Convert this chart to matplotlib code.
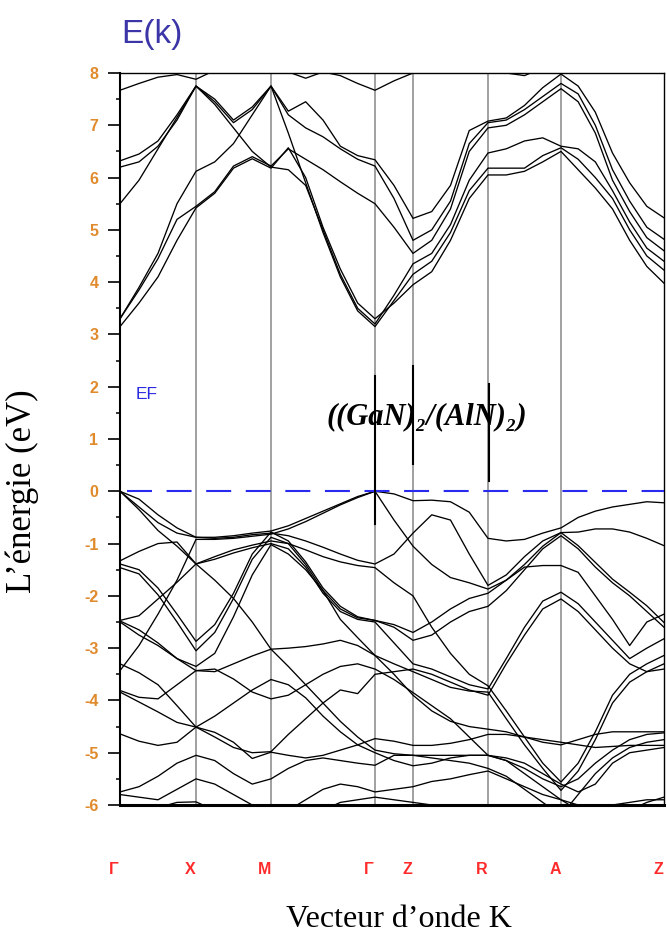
import numpy as np
import matplotlib
matplotlib.use('Agg')
import matplotlib.pyplot as plt
import matplotlib.transforms as mtransforms

plt.rcParams['axes.unicode_minus'] = False

# High symmetry points along the path
k_labels = ['Γ', 'X', 'M', 'Γ', 'Z', 'R', 'A', 'Z']
k_nodes = [0.0, 0.76, 1.51, 2.55, 2.93, 3.68, 4.41, 5.44]
seg_div = [4, 4, 6, 2, 4, 4, 6]

# Conduction bands (eV), read at the sample points of the path
cb1 = [3.15, 3.6, 4.1, 4.8, 5.42, 5.7, 6.18, 6.36, 6.18, 6.57, 6.0, 5.05, 4.25, 3.6, 3.3,
       3.6, 3.95, 4.2, 4.8, 5.6, 6.05, 6.05, 6.12, 6.3, 6.5, 6.15, 5.8, 5.4, 4.8, 4.3, 3.98]
cb2 = [3.3, 3.9, 4.55, 5.5, 6.12, 6.3, 6.65, 7.2, 7.75, 6.85, 5.9, 4.95, 4.1, 3.45, 3.15,
       3.65, 4.15, 4.4, 4.95, 5.75, 6.18, 6.18, 6.18, 6.42, 6.57, 6.35, 6.0, 5.6, 5.0, 4.5, 4.23]
cb3 = [5.5, 5.95, 6.55, 7.15, 7.75, 7.4, 6.95, 6.5, 6.2, 6.15, 5.85, 5.0, 4.15, 3.5, 3.2,
       3.75, 4.35, 4.55, 5.1, 5.95, 6.47, 6.55, 6.7, 6.76, 6.6, 6.55, 6.3, 5.75, 5.15, 4.65, 4.4]
cb4 = [3.3, 3.85, 4.45, 5.2, 5.45, 5.73, 6.22, 6.4, 6.22, 6.55, 6.35, 6.15, 5.92, 5.7, 5.5,
       5.05, 4.55, 4.8, 5.4, 6.5, 6.95, 7.0, 7.2, 7.45, 7.7, 7.45, 6.85, 5.95, 5.35, 4.85, 4.6]
cb5 = [6.2, 6.3, 6.6, 7.1, 7.75, 7.5, 7.1, 7.35, 7.75, 7.2, 6.95, 6.78, 6.55, 6.35, 6.22,
       5.6, 4.8, 5.0, 5.55, 6.65, 7.05, 7.1, 7.3, 7.55, 7.8, 7.6, 7.0, 6.15, 5.55, 5.05, 4.82]
cb6 = [6.32, 6.45, 6.7, 7.2, 7.75, 7.45, 7.05, 7.3, 7.75, 7.27, 7.45, 7.1, 6.6, 6.42, 6.34,
       5.85, 5.22, 5.35, 5.85, 6.9, 7.08, 7.14, 7.38, 7.72, 7.98, 7.75, 7.25, 6.47, 5.9, 5.45, 5.23]
cb7 = [7.67, 7.8, 7.92, 7.97, 7.88, 8.05, 8.15, 8.1, 8.0, 8.02, 7.9, 8.02, 7.95, 7.8, 7.67,
       7.85, 8.0, 8.2, 8.3, 8.25, 8.1, 8.0, 7.95, 8.1, 8.3, 8.5, 8.6, 8.6, 8.6, 8.6, 8.6]

# Valence bands (eV)
vb1 = [0, -0.15, -0.45, -0.7, -0.88, -0.88, -0.85, -0.8, -0.76, -0.66, -0.52, -0.38, -0.24, -0.1, 0,
       -0.05, -0.18, -0.17, -0.2, -0.4, -0.9, -0.95, -0.92, -0.8, -0.7, -0.5, -0.38, -0.3, -0.25, -0.2, -0.22]
vb2 = [0, -0.3, -0.6, -0.8, -0.88, -0.9, -0.88, -0.83, -0.8, -0.85, -0.95, -1.07, -1.2, -1.32, -1.39,
       -1.2, -0.8, -0.45, -0.55, -1.2, -1.8, -1.6, -1.25, -0.95, -0.79, -0.78, -0.72, -0.72, -0.78, -0.9, -1.04]
vb3 = [0, -0.35, -0.75, -1.05, -1.39, -1.25, -1.12, -1.03, -0.95, -1.0, -1.12, -1.25, -1.35, -1.42, -1.46,
       -1.75, -2.0, -2.6, -3.1, -3.5, -3.72, -4.2, -4.7, -5.2, -5.56, -5.2, -4.6, -3.9, -3.5, -3.3, -3.14]
vb4 = [-1.33, -1.15, -1.0, -0.97, -1.39, -1.7, -2.05, -2.5, -3.02, -3.35, -3.7, -4.05, -4.4, -4.7, -4.95,
       -5.02, -5.05, -5.05, -5.05, -5.05, -5.05, -5.15, -5.3, -5.5, -5.65, -5.5, -5.2, -4.95, -4.75, -4.65, -4.62]
vb5 = [-1.39, -1.5, -1.85, -2.35, -2.87, -2.55, -1.95, -1.2, -0.78, -0.95, -1.35, -1.85, -2.2, -2.4, -2.47,
       -2.55, -2.7, -2.5, -2.25, -2.05, -1.95, -1.7, -1.4, -1.05, -0.79, -1.04, -1.36, -1.68, -1.93, -2.19, -2.51]
vb6 = [-1.46, -1.58, -1.98, -2.5, -3.05, -2.7, -2.05, -1.3, -0.88, -1.0, -1.4, -1.9, -2.25, -2.42, -2.47,
       -2.6, -2.85, -2.75, -2.5, -2.3, -2.2, -1.9, -1.5, -1.1, -0.85, -1.1, -1.45, -1.75, -2.0, -2.3, -2.6]
vb7 = [-2.47, -2.38, -2.06, -1.74, -1.39, -1.3, -1.18, -1.08, -1.0, -1.1, -1.45, -1.95, -2.3, -2.45, -2.5,
       -2.9, -3.3, -3.4, -3.55, -3.7, -3.78, -3.2, -2.6, -2.1, -1.93, -2.15, -2.5, -2.85, -3.2, -3.0, -2.82]
vb8 = [-2.48, -2.65, -2.9, -3.2, -3.35, -3.1, -2.4, -1.6, -1.02, -1.2, -1.5, -1.9, -2.45, -2.8, -3.14,
       -3.5, -3.9, -4.2, -4.4, -4.5, -4.55, -4.6, -4.7, -4.8, -4.85, -4.75, -4.65, -4.6, -4.6, -4.6, -4.6]
vb9 = [-2.5, -2.75, -2.95, -3.2, -3.43, -3.45, -3.3, -3.15, -3.02, -3.0, -2.97, -2.92, -2.85, -2.95, -3.14,
       -3.3, -3.45, -3.6, -3.75, -3.82, -3.84, -4.35, -4.85, -5.3, -5.72, -5.35, -4.75, -4.05, -3.65, -3.45, -3.3]
vb10 = [-3.43, -2.95, -2.35, -1.7, -0.92, -0.92, -0.9, -0.86, -0.82, -0.72, -0.58, -0.42, -0.26, -0.12, 0,
        -0.55, -1.05, -1.4, -1.65, -1.75, -1.87, -1.7, -1.45, -1.42, -1.42, -1.55, -2.0, -2.45, -2.95, -2.5, -2.35]
vb11 = [-3.3, -3.47, -3.7, -4.1, -4.51, -4.61, -4.8, -5.11, -4.99, -5.05, -5.1, -5.05, -4.95, -4.85, -4.73,
        -4.78, -4.86, -4.86, -4.82, -4.75, -4.65, -4.65, -4.7, -4.75, -4.8, -4.85, -4.9, -4.88, -4.86, -4.86, -4.86]
vb12 = [-3.81, -3.94, -3.97, -3.7, -3.43, -3.4, -3.59, -3.84, -3.97, -3.9, -3.7, -3.5, -3.35, -3.3, -3.4,
        -3.6, -3.85, -4.1, -4.35, -4.7, -5.05, -5.15, -5.4, -5.65, -5.9, -6.1, -6.3, -6.4, -6.4, -6.3, -6.2]
vb13 = [-3.84, -4.03, -4.22, -4.42, -4.51, -4.7, -4.9, -5.0, -4.98, -4.65, -4.35, -4.05, -3.8, -3.87, -3.5,
        -3.45, -3.4, -3.5, -3.65, -3.8, -3.9, -3.3, -2.75, -2.25, -2.06, -2.3, -2.65, -3.0, -3.3, -3.45, -3.4]
vb14 = [-4.64, -4.78, -4.86, -4.8, -4.51, -4.3, -4.05, -3.8, -3.6, -3.7, -3.95, -4.3, -4.6, -4.85, -5.0,
        -5.15, -5.25, -5.2, -5.1, -5.05, -5.05, -5.1, -5.2, -5.4, -5.6, -5.75, -5.6, -5.2, -5.0, -4.95, -4.9]
vb15 = [-5.75, -5.65, -5.45, -5.2, -5.05, -5.15, -5.4, -5.6, -5.5, -5.3, -5.15, -5.1, -5.15, -5.2, -5.24,
        -5.05, -5.05, -5.1, -5.15, -5.2, -5.3, -5.45, -5.7, -5.95, -6.2, -5.8, -5.4, -5.1, -4.9, -4.8, -4.75]
vb16 = [-5.8, -5.85, -5.9, -5.7, -5.5, -5.6, -5.8, -6.0, -6.2, -6.1, -5.9, -5.7, -5.6, -5.65, -5.75,
        -5.7, -5.65, -5.55, -5.5, -5.42, -5.35, -5.5, -5.65, -5.8, -5.9, -6.0, -6.1, -6.2, -6.1, -5.95, -5.85]
vb17 = [-6.3, -6.2, -6.05, -5.95, -5.94, -6.1, -6.3, -6.5, -6.6, -6.5, -6.3, -6.1, -5.95, -5.9, -5.85,
        -5.9, -5.95, -6.0, -6.05, -6.1, -6.1, -6.2, -6.3, -6.3, -6.3, -6.2, -6.1, -6.0, -5.95, -5.9, -5.9]

bands = [cb1, cb2, cb3, cb4, cb5, cb6, cb7,
         vb1, vb2, vb3, vb4, vb5, vb6, vb7, vb8, vb9, vb10, vb11, vb12, vb13, vb14, vb15, vb16, vb17]

# k grid along the path
k = []
for i in range(len(seg_div)):
    k.extend(np.linspace(k_nodes[i], k_nodes[i + 1], seg_div[i] + 1)[:-1])
k.append(k_nodes[-1])
k = np.array(k)

fig = plt.figure(figsize=(6.67, 9.36), dpi=100)
ax = fig.add_axes([120 / 667, 1 - 805 / 936, 544 / 667, 732 / 936])

for kn in k_nodes[1:-1]:
    ax.axvline(kn, color='#a0a0a0', lw=1.4, zorder=1)

for b in bands:
    ax.plot(k, b, color='black', lw=0.95, zorder=2)

# Fermi level
ax.plot([0.07, k_nodes[-1]], [0, 0], color='#2a2aee', lw=1.5, dashes=(12, 7), zorder=3)

# annotation bars
ax.plot([k_nodes[3], k_nodes[3]], [2.21, -0.63], color='black', lw=1.5, zorder=4)
ax.plot([k_nodes[4], k_nodes[4]], [2.4, 0.52], color='black', lw=1.5, zorder=4)
ax.plot([k_nodes[5] + 0.01, k_nodes[5] + 0.01], [2.05, 0.2], color='black', lw=1.5, zorder=4)

ax.text(0.27, 1.85, 'EF', color='#2a2ae0', fontsize=12.5, family='Liberation Sans',
        ha='center', va='center')
ax.text(3.07, 1.42, '((GaN)₂/(AlN)₂)', fontsize=22, fontweight='bold', fontstyle='italic',
        family=['Liberation Serif', 'DejaVu Serif'], ha='center', va='center', zorder=5)

ax.set_xlim(k_nodes[0], k_nodes[-1])
ax.set_ylim(-6, 8)
ax.set_yticks(range(-6, 9))
ax.set_yticks(np.arange(-6, 8, 0.5), minor=True)
ax.set_xticks([])
ax.tick_params(axis='y', which='major', direction='out', length=8.5, width=1.2, pad=7,
               labelsize=11.5, labelcolor='#e08a2c')
ax.tick_params(axis='y', which='minor', direction='out', length=3, width=1.1)
for lab in ax.get_yticklabels():
    lab.set_family('Liberation Sans')
    lab.set_fontweight('bold')

ax.spines['left'].set_linewidth(1.5)
ax.spines['bottom'].set_linewidth(2.2)
ax.spines['top'].set_linewidth(1.0)
ax.spines['right'].set_linewidth(1.0)

# k point labels below the frame
trans = mtransforms.offset_copy(ax.get_xaxis_transform(), fig=fig, x=-6, y=0, units='dots')
for lab, kn in zip(k_labels, k_nodes):
    ax.text(kn, -0.088, lab, transform=trans, color='#ff2a2a', fontsize=11.5,
            fontweight='bold', family='Liberation Sans', ha='center', va='center', clip_on=False)

fig.text(121 / 667, 1 - 43 / 936, 'E(k)', color='#3b35a8', fontsize=24,
         family='Liberation Sans', ha='left', va='baseline')
fig.text(399 / 667, 1 - 927 / 936, 'Vecteur d’onde K', fontsize=23,
         family='Liberation Serif', ha='center', va='baseline')
fig.text(22 / 667, 1 - 491 / 936, 'L’énergie (eV)', fontsize=25, rotation=90,
         family='Liberation Serif', ha='center', va='center')

fig.savefig('out.png', dpi=100)
